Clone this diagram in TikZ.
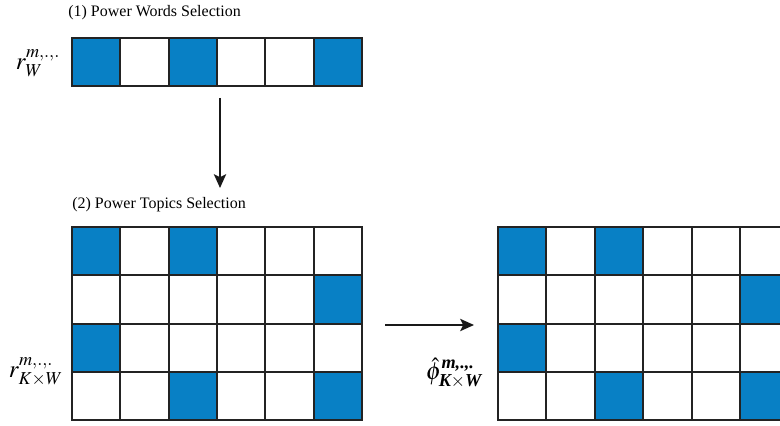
\documentclass[tikz,border=0pt]{standalone}
\usepackage{amsmath}
\usepackage{mathptmx}
\usepackage[no-math]{fontspec}
\setmainfont{Liberation Serif}
\usetikzlibrary{arrows.meta}
\definecolor{cellblue}{RGB}{8,128,197}
\definecolor{linegray}{RGB}{35,35,35}
\newcommand\bfit[1]{\text{\bfseries\itshape #1}}
\begin{document}
\begin{tikzpicture}[x=0.65pt,y=-0.65pt]
\tikzset{
  cell/.style={draw=linegray, line width=1.2pt, fill=white, inner sep=0pt, outer sep=0pt,
    minimum width={48.33*0.65pt}, minimum height={48.3*0.65pt}, anchor=north west},
  oncell/.style={cell, fill=cellblue},
  caption/.style={font=\fontsize{10.4}{12}\selectfont, anchor=west, inner sep=0pt},
  mlabel/.style={font=\fontsize{16}{18}\selectfont, inner sep=0pt},
  flow/.style={-{Stealth[length=9pt,width=8pt,inset=2pt]}, line width=1.2pt, draw=black!90}
}
\useasboundingbox (0,0) rectangle (780,426);
\clip (0,0) rectangle (780,426);

% (1) words row
\node[caption] (t1) at (68,13) {(1) Power Words Selection};
\foreach \i in {0,...,5}{
  \node[cell] (w\i) at ({72+\i*48.33},38) {};
}
\foreach \i in {0,2,5}{
  \node[oncell] at ({72+\i*48.33},38) {};
}
\node[mlabel] (lw) at (38,63) {$r_{W}^{m,.,.}$};

% arrow down
\coordinate (d1) at (220,98);
\coordinate (d2) at (220,188);
\draw[flow] (d1) -- (d2);

% (2) topics grid
\node[caption] (t2) at (72,205) {(2) Power Topics Selection};
\foreach \r in {0,...,3}{
  \foreach \c in {0,...,5}{
    \node[cell] (p\r\c) at ({72+\c*48.33},{227+\r*48.3}) {};
  }
}
\foreach \r/\c in {0/0,0/2,1/5,2/0,3/2,3/5}{
  \node[oncell] at ({72+\c*48.33},{227+\r*48.3}) {};
}
\node[mlabel] (lk) at (36,372) {$r_{K\times W}^{m,.,.}$};

% arrow right
\coordinate (h1) at (385,325);
\coordinate (h2) at (474,325);
\draw[flow] (h1) -- (h2);

% result grid
\foreach \r in {0,...,3}{
  \foreach \c in {0,...,5}{
    \node[cell] (q\r\c) at ({498+\c*48.5},{227+\r*48.3}) {};
  }
}
\foreach \r/\c in {0/0,0/2,1/5,2/0,3/2,3/5}{
  \node[oncell] at ({498+\c*48.5},{227+\r*48.3}) {};
}
\node[mlabel] (lp) at (454,373) {$\hat{\phi}_{\bfit{K}\times\bfit{W}}^{\bfit{m,.,.}}$};
\end{tikzpicture}
\end{document}
